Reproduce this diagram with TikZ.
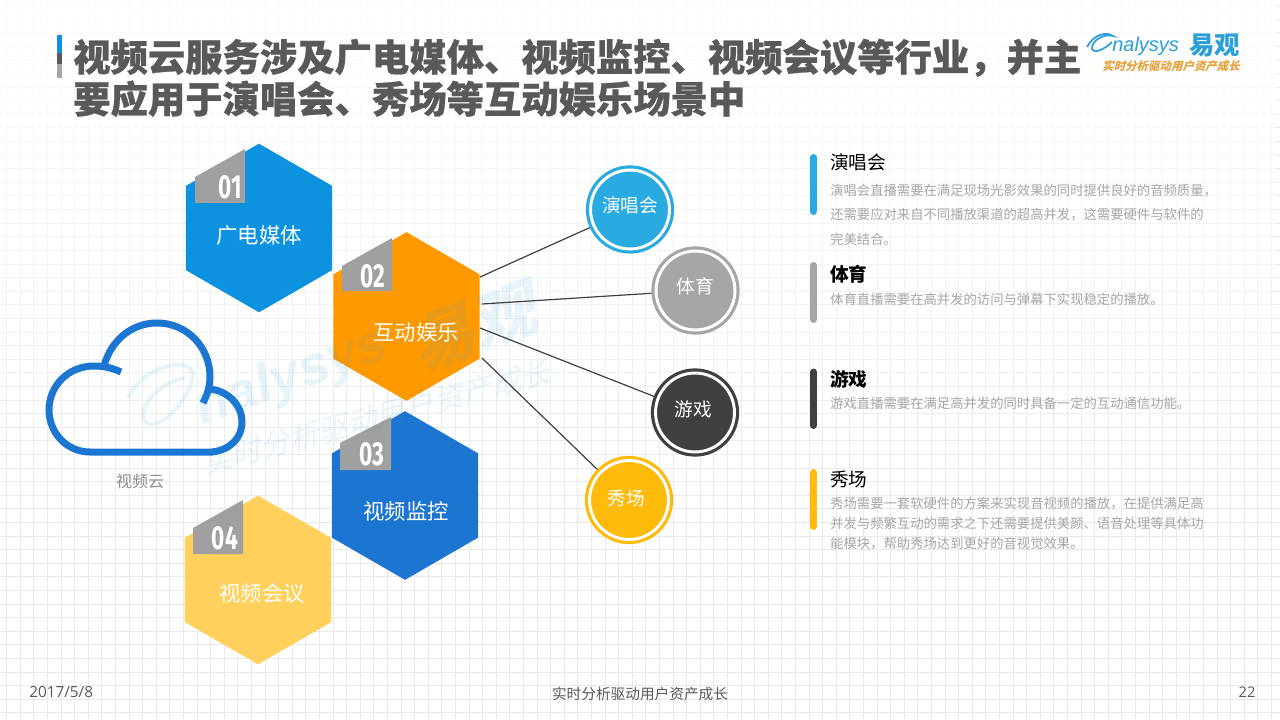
\documentclass[tikz,border=0pt]{standalone}
\usepackage{fontspec}
\usepackage{xcolor}
\usetikzlibrary{shapes.geometric,fadings}
\setmainfont{Noto Sans CJK SC}
\newfontfamily\numfont{Open Sans}
\newfontfamily\tagfont{Fira Sans}
\newfontfamily\logofont{Liberation Sans}
\newfontfamily\slantfont[FakeSlant=0.25]{Noto Sans CJK SC}
\newfontfamily\titlefont[BoldFeatures={FakeBold=0.7}]{Noto Sans CJK SC}

\definecolor{gridgray}{HTML}{E8E8E8}
\definecolor{titlegray}{HTML}{595959}
\definecolor{bodygray}{HTML}{A6A6A6}
\definecolor{taggray}{HTML}{A0A0A0}
\definecolor{hexblue}{HTML}{0C92DF}
\definecolor{hexorange}{HTML}{FF9900}
\definecolor{hexdeep}{HTML}{1B75D1}
\definecolor{hexyellow}{HTML}{FFD15C}
\definecolor{ringblue}{HTML}{29ABE2}
\definecolor{ringdark}{HTML}{404040}
\definecolor{ringgold}{HTML}{FFBB0B}
\definecolor{logoblue}{HTML}{2A9FD8}
\definecolor{logoorange}{HTML}{E5A23A}

\tikzset{
  hexnode/.style={regular polygon,regular polygon sides=6,shape border rotate=30,minimum size=126.5pt,inner sep=0pt,outer sep=0pt},
  hextext/.style={text=white,font=\fontsize{16}{16}\selectfont,inner sep=0pt},
  tagshape/.style={fill=taggray,draw=none},
  tagtext/.style={text=white,inner sep=0pt,font=\tagfont\bfseries\fontsize{25}{25}\selectfont},
  ringnode/.style={circle,minimum size=59.2pt,inner sep=0pt,outer sep=3.5pt,line width=2.4pt,double=white,double distance=2.2pt},
  ringtext/.style={text=white,font=\fontsize{14}{14}\selectfont,inner sep=0pt},
  spoke/.style={draw=ringdark,line width=0.9pt},
  sidebar/.style={line width=5.25pt,line cap=round},
  headtext/.style={anchor=west,inner sep=0pt,text=black,font=\fontsize{14}{14}\selectfont},
  bodytext/.style={anchor=west,align=left,inner sep=0pt,text=bodygray,font=\fontsize{10}{#1}\selectfont},
  bodytext/.default=15,
  marktext/.style={text=logoblue,opacity=0.11,inner sep=0pt,rotate=20},
}

\begin{document}
\begin{tikzpicture}[x=0.75pt,y=0.75pt,yscale=-1]
\useasboundingbox (0,0) rectangle (1280,720);

%Background grid
\fill[white] (0,0) rectangle (1280,720);
\foreach \gx in {0,...,94} \draw[gridgray,line width=0.75pt] ({6.7+13.6*\gx},0) -- ({6.7+13.6*\gx},720);
\foreach \gy in {0,...,52} \draw[gridgray,line width=0.75pt] (0,{5.6+13.6*\gy}) -- (1280,{5.6+13.6*\gy});
\fill[white,path fading=south] (0,-60) rectangle (1280,560);

%Title bar
\fill[hexblue] (57,35) rectangle (61.5,53);
\fill[titlegray] (57,53) rectangle (61.5,64);
\fill[bodygray] (57,64) rectangle (61.5,78.5);

% Text Node
\node (title) [anchor=north west,align=left,inner sep=0pt,text=titlegray,font=\titlefont\bfseries\fontsize{28}{31.5}\selectfont] at (73,38.5) {视频云服务涉及广电媒体、视频监控、视频会议等行业，并主\\要应用于演唱会、秀场等互动娱乐场景中};

%Logo
\draw[logoblue,line width=1.3pt] (1087,47) .. controls (1093,35) and (1106,31) .. (1113,36) .. controls (1104,33) and (1091,41) .. (1092,49) .. controls (1093,54) and (1104,50) .. (1112,42);
% Text Node
\node (logoname) [anchor=west,inner sep=0pt,text=logoblue,font=\logofont\itshape\fontsize{15}{15}\selectfont] at (1112,46) {nalysys};
\node (logocn) [anchor=west,inner sep=0pt,text=logoblue,font=\bfseries\fontsize{19}{19}\selectfont] at (1189,45) {易观};
\node (logoslogan) [anchor=west,inner sep=0pt,text=logoorange,font=\slantfont\bfseries\fontsize{8.6}{8.6}\selectfont] at (1102,66) {实时分析驱动用户资产成长};

%Shape: Hexagon
\node (hexa) [hexnode,fill=hexblue] at (259,228) {};
\node (hexb) [hexnode,fill=hexorange] at (406.5,316.5) {};
\node (hexc) [hexnode,fill=hexdeep] at (405,495.5) {};
\node (hexd) [hexnode,fill=hexyellow] at (258,580) {};

%Shape: Number tag
\fill[tagshape] (195,177) -- (245,149) -- (245,203) -- (195,203) -- cycle;
\fill[tagshape] (342,266) -- (392,238) -- (392,291) -- (342,291) -- cycle;
\fill[tagshape] (340,443) -- (391,417) -- (391,470) -- (340,470) -- cycle;
\fill[tagshape] (193,528) -- (243,500) -- (243,554) -- (193,554) -- cycle;

% Text Node
\node (numa) [tagtext] at (230,187) {\scalebox{0.68}[1]{01}};
\node (numb) [tagtext] at (373,276) {\scalebox{0.68}[1]{02}};
\node (numc) [tagtext] at (372,454) {\scalebox{0.68}[1]{03}};
\node (numd) [tagtext] at (225,538) {\scalebox{0.68}[1]{04}};

%Shape: Cloud
\draw[hexdeep,line width=5.25pt] (121,372) .. controls (110,367) and (102,366) .. (94,366) .. controls (68,366) and (49,386) .. (49,410) .. controls (49,432) and (66,452) .. (90,452) -- (212,452) .. controls (230,450) and (242,438) .. (242,422) .. controls (242,405) and (228,391) .. (210,389);
\draw[hexdeep,line width=5.25pt] (104,366) .. controls (111,340) and (132,323) .. (157,323) .. controls (187,323) and (210,347) .. (210,377) .. controls (210,387) and (207,395) .. (203,403);
% Text Node
\node (cloudlabel) [inner sep=0pt,text=bodygray!85!black,font=\fontsize{12}{12}\selectfont] at (140,481) {视频云};

%Shape: Watermark
\draw[logoblue,opacity=0.11,line width=3pt] (128,398) .. controls (140,372) and (175,358) .. (190,368) .. controls (202,378) and (172,425) .. (150,424) .. controls (132,420) and (150,385) .. (185,378);
\node (markname) [marktext,font=\logofont\bfseries\itshape\fontsize{41}{41}\selectfont] at (292,378) {nalysys};
\node (markcn) [marktext,font=\slantfont\bfseries\fontsize{48}{48}\selectfont] at (473,328) {易观};
\node (markline) [marktext,rotate=-5,font=\slantfont\fontsize{22.4}{22.4}\selectfont] at (376,417) {实时分析驱动用户资产成长};

% Text Node
\node (hextexta) [hextext] at (259,235) {广电媒体};
\node (hextextb) [hextext] at (416,332) {互动娱乐};
\node (hextextc) [hextext] at (406,511) {视频监控};
\node (hextextd) [hextext] at (262,593) {视频会议};

%Shape: Circle
\node (concert) [ringnode,draw=ringblue,fill=ringblue] at (630,209.5) {};
\node (sports) [ringnode,draw=bodygray,fill=bodygray] at (695.5,290.5) {};
\node (games) [ringnode,draw=ringdark,fill=ringdark] at (695,412.5) {};
\node (show) [ringnode,draw=ringgold,fill=ringgold] at (629,500) {};

% Text Node
\node (concerttext) [ringtext] at (630,205) {演唱会};
\node (sportstext) [ringtext] at (695,286) {体育};
\node (gamestext) [ringtext] at (693,409) {游戏};
\node (showtext) [ringtext] at (626,498) {秀场};

%Straight Lines
\coordinate (spokea) at (480,277);
\coordinate (spokeb) at (482,304);
\coordinate (spokec) at (480,328);
\coordinate (spoked) at (482,358);
\draw[spoke] (spokea) -- (concert);
\draw[spoke] (spokeb) -- (sports);
\draw[spoke] (spokec) -- (games);
\draw[spoke] (spoked) -- (show);

%Side bars
\draw[sidebar,ringblue] (813.5,157.5) -- (813.5,211.5);
\draw[sidebar,bodygray] (813.5,265.5) -- (813.5,319.5);
\draw[sidebar,ringdark] (813.5,372) -- (813.5,425.5);
\draw[sidebar,ringgold] (813.5,472.5) -- (813.5,526.5);

% Text Node
\node (concerthead) [headtext] at (830,162) {演唱会};
\node (concertbody) [bodytext=18.4] at (830,214.5) {演唱会直播需要在满足现场光影效果的同时提供良好的音频质量，\\还需要应对来自不同播放渠道的超高并发，这需要硬件与软件的\\完美结合。};
\node (sportshead) [headtext,font=\bfseries\fontsize{14}{14}\selectfont] at (830,274) {体育};
\node (sportsbody) [bodytext] at (830,299) {体育直播需要在高并发的访问与弹幕下实现稳定的播放。};
\node (gameshead) [headtext,font=\bfseries\fontsize{14}{14}\selectfont] at (830,379) {游戏};
\node (gamesbody) [bodytext] at (830,403.5) {游戏直播需要在满足高并发的同时具备一定的互动通信功能。};
\node (showhead) [headtext] at (830,479) {秀场};
\node (showbody) [bodytext] at (830,523.5) {秀场需要一套软硬件的方案来实现音视频的播放，在提供满足高\\并发与频繁互动的需求之下还需要提供美颜、语音处理等具体功\\能模块，帮助秀场达到更好的音视觉效果。};

%Footer
\node (footdate) [anchor=west,inner sep=0pt,text=titlegray,font=\numfont\fontsize{11.5}{11.5}\selectfont] at (29,692) {2017/5/8};
\node (footmid) [inner sep=0pt,text=titlegray,font=\fontsize{11}{11}\selectfont] at (640,694) {实时分析驱动用户资产成长};
\node (footpage) [inner sep=0pt,text=titlegray,font=\numfont\fontsize{11}{11}\selectfont] at (1247,692) {22};

\end{tikzpicture}
\end{document}
